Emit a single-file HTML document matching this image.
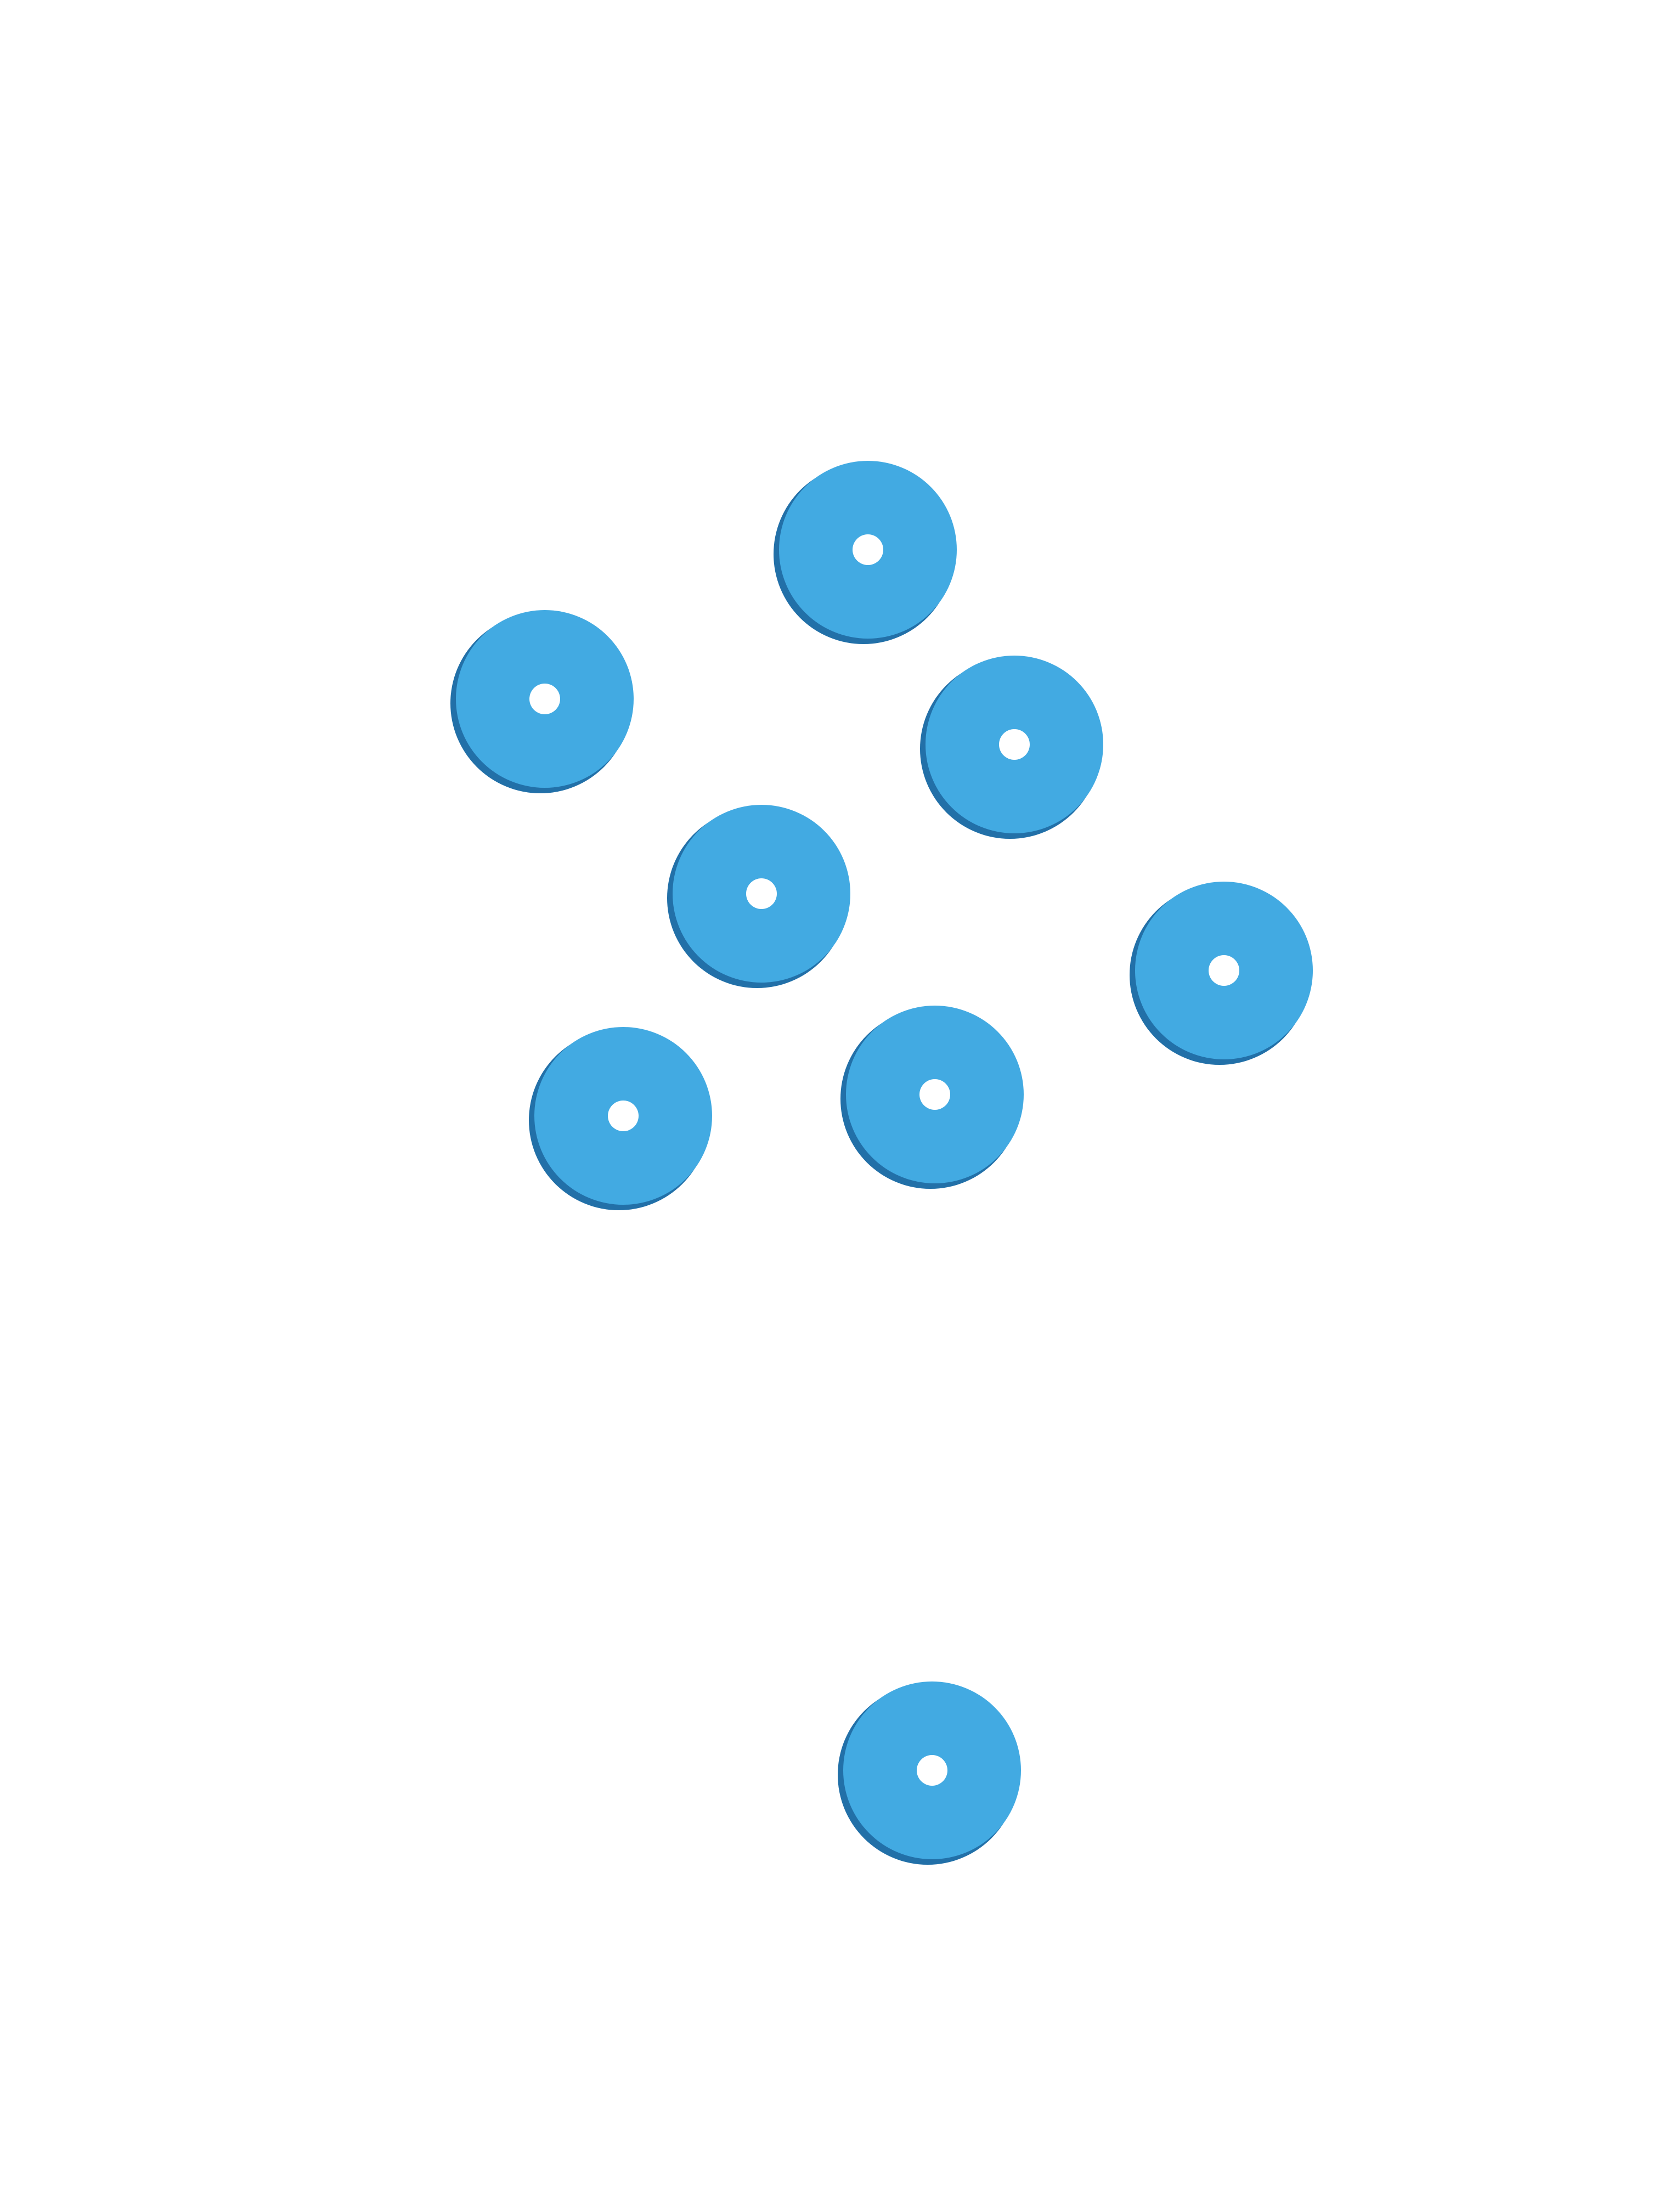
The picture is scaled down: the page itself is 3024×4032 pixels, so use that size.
<!DOCTYPE html>
<html><head><style>html,body{margin:0;padding:0;background:#fff}svg{display:block}</style></head>
<body>
<svg width="3024" height="4032" viewBox="0 0 3024 4032" xmlns="http://www.w3.org/2000/svg">
<defs>
<g id="d">
<circle cx="-8" cy="8" r="164" fill="#2270a8"/>
<circle cx="0" cy="0" r="162" fill="#42aae2"/>
<circle cx="0" cy="0" r="28" fill="#fff"/>
</g>
</defs>
<g transform="translate(-13,-10)">
<use href="#d" x="1595" y="1012"/>
<use href="#d" x="1006" y="1284"/>
<use href="#d" x="1862" y="1367"/>
<use href="#d" x="1401" y="1639"/>
<use href="#d" x="2244" y="1779"/>
<use href="#d" x="1149" y="2044"/>
<use href="#d" x="1717" y="2005"/>
<use href="#d" x="1712" y="3237"/>
</g>
</svg>
</body></html>
